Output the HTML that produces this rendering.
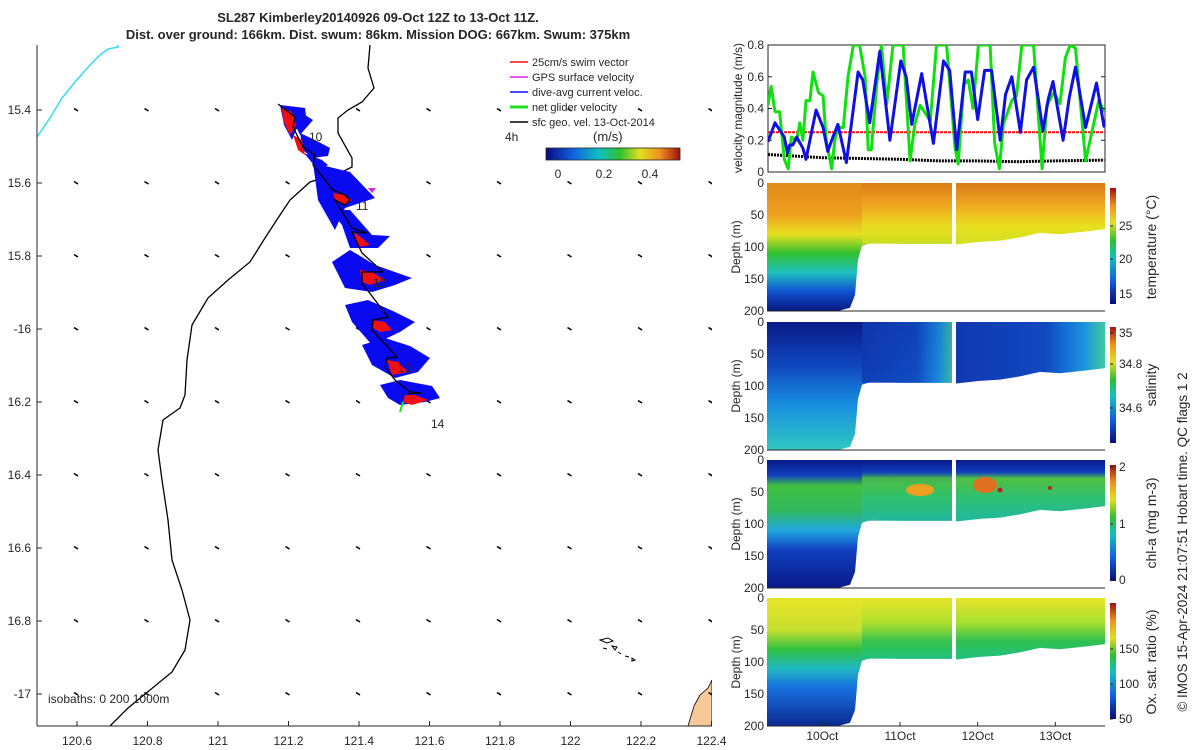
<!DOCTYPE html>
<html><head><meta charset="utf-8">
<style>
html,body{margin:0;padding:0;background:#fff;}
svg{display:block;font-family:"Liberation Sans","DejaVu Sans",sans-serif;}
text{fill:#262626;}
</style></head>
<body>
<svg id="chart" width="1200" height="750" viewBox="0 0 1200 750">
<defs>
  <linearGradient id="jet" x1="0" y1="0" x2="1" y2="0">
    <stop offset="0" stop-color="#0a0a80"/><stop offset="0.2" stop-color="#1060e0"/>
    <stop offset="0.4" stop-color="#10c0c0"/><stop offset="0.55" stop-color="#30c030"/>
    <stop offset="0.7" stop-color="#e0e020"/><stop offset="0.85" stop-color="#f09020"/>
    <stop offset="1" stop-color="#a01010"/>
  </linearGradient>
  <linearGradient id="jetv" x1="0" y1="1" x2="0" y2="0">
    <stop offset="0" stop-color="#0a0a80"/><stop offset="0.2" stop-color="#1060e0"/>
    <stop offset="0.4" stop-color="#10c0c0"/><stop offset="0.55" stop-color="#30c030"/>
    <stop offset="0.7" stop-color="#e0e020"/><stop offset="0.85" stop-color="#f09020"/>
    <stop offset="1" stop-color="#a01010"/>
  </linearGradient>
  <linearGradient id="tempL" x1="0" y1="0" x2="0" y2="1">
    <stop offset="0" stop-color="#e08a18"/><stop offset="0.25" stop-color="#eea020"/>
    <stop offset="0.4" stop-color="#e8e020"/><stop offset="0.55" stop-color="#30c030"/>
    <stop offset="0.7" stop-color="#20c0c0"/><stop offset="0.85" stop-color="#1050d0"/>
    <stop offset="1" stop-color="#0a1a80"/>
  </linearGradient>
  <linearGradient id="tempR" x1="0" y1="0" x2="0" y2="1">
    <stop offset="0" stop-color="#d87a18"/><stop offset="0.3" stop-color="#eca020"/>
    <stop offset="0.5" stop-color="#f0c020"/><stop offset="0.7" stop-color="#e8e020"/>
    <stop offset="1" stop-color="#d0e020"/>
  </linearGradient>
  <linearGradient id="salL" x1="0" y1="0" x2="0" y2="1">
    <stop offset="0" stop-color="#0a1a88"/><stop offset="0.35" stop-color="#1048c0"/>
    <stop offset="0.65" stop-color="#1890e0"/><stop offset="1" stop-color="#30c8c0"/>
  </linearGradient>
  <linearGradient id="salR" x1="0" y1="0" x2="1" y2="0">
    <stop offset="0" stop-color="#1038b0"/><stop offset="0.6" stop-color="#1048c0"/>
    <stop offset="0.85" stop-color="#1890e0"/><stop offset="1" stop-color="#40c8a0"/>
  </linearGradient>
  <linearGradient id="chlL" x1="0" y1="0" x2="0" y2="1">
    <stop offset="0" stop-color="#0a1a88"/><stop offset="0.12" stop-color="#1040c0"/>
    <stop offset="0.2" stop-color="#40c040"/><stop offset="0.4" stop-color="#30b860"/>
    <stop offset="0.55" stop-color="#20a8e0"/><stop offset="0.7" stop-color="#1040c0"/>
    <stop offset="1" stop-color="#0a1a88"/>
  </linearGradient>
  <linearGradient id="chlR" x1="0" y1="0" x2="0" y2="1">
    <stop offset="0" stop-color="#0a1a88"/><stop offset="0.2" stop-color="#1040c0"/>
    <stop offset="0.3" stop-color="#50c040"/><stop offset="0.6" stop-color="#30c070"/>
    <stop offset="1" stop-color="#20b8a0"/>
  </linearGradient>
  <linearGradient id="oxL" x1="0" y1="0" x2="0" y2="1">
    <stop offset="0" stop-color="#e8e428"/><stop offset="0.25" stop-color="#c8e030"/>
    <stop offset="0.4" stop-color="#30c040"/><stop offset="0.55" stop-color="#20b8c0"/>
    <stop offset="0.7" stop-color="#1870e0"/><stop offset="1" stop-color="#0a2a90"/>
  </linearGradient>
  <linearGradient id="oxR" x1="0" y1="0" x2="0" y2="1">
    <stop offset="0" stop-color="#e8e428"/><stop offset="0.4" stop-color="#a8e030"/>
    <stop offset="0.7" stop-color="#30c050"/><stop offset="1" stop-color="#20c080"/>
  </linearGradient>
</defs>

<!-- Titles -->
<text x="378" y="22" text-anchor="middle" font-size="13" font-weight="bold">SL287 Kimberley20140926 09-Oct 12Z to 13-Oct 11Z.</text>
<text x="378" y="39" text-anchor="middle" font-size="13" font-weight="bold">Dist. over ground: 166km. Dist. swum: 86km. Mission DOG: 667km. Swum: 375km</text>

<!-- MAP -->
<g>
  <clipPath id="mapclip"><rect x="37" y="45" width="675" height="681"/></clipPath>
  <g clip-path="url(#mapclip)">
    <polyline points="37,137 50,118 62,98 75,82 90,65 100,55 108,49 118,47 118,44" fill="none" stroke="#30e0f0" stroke-width="1.5"/>
    <polyline points="370,45 368,68 374,88 362,102 348,110 338,118 338,133 352,158 352,167 342,172 310,182 290,200 278,218 265,238 250,262 228,280 208,298 192,325 187,360 185,395 180,408 163,420 158,450 162,480 168,520 172,560 182,590 190,620 185,650 172,672 150,690 128,708 110,726" fill="none" stroke="#000" stroke-width="1.3"/>
    <polygon points="688,726 694,706 700,695 708,688 712,680 712,726" fill="#f7c898" stroke="#000" stroke-width="0.8"/>
    <g fill="none" stroke="#000" stroke-width="1">
      <path d="M600,640 l8,-2 l5,3 l-6,2 z"/><path d="M612,646 l5,1 l-2,3z"/><path d="M618,652 l3,2"/><path d="M625,656 l4,1"/><path d="M632,658 l3,2 l-3,1z"/><path d="M603,648 l4,1"/>
    </g>
    <g id="quivers"></g>
    <!-- track -->
    <g>
      <polygon fill="#0a0af0" points="280,105 305,108 306,116 296,130 292,140 284,125"/>
      <polygon fill="#0a0af0" points="292,118 305,115 313,120 300,135"/>
      <polygon fill="#0a0af0" points="300,133 315,140 330,148 328,156 312,158 303,150"/>
      <polygon fill="#0a0af0" points="304,153 322,160 328,165 318,170"/>
      <polygon fill="#0a0af0" points="313,163 350,172 375,198 345,208 335,230 318,200"/>
      <polygon fill="#0a0af0" points="330,210 350,210 372,235 390,236 378,248 350,248 342,225"/>
      <polygon fill="#0a0af0" points="332,262 350,250 375,265 412,278 395,285 372,292 345,288"/>
      <polygon fill="#0a0af0" points="345,305 368,300 395,312 415,322 400,332 372,345 352,322"/>
      <polygon fill="#0a0af0" points="362,345 385,338 410,346 430,358 418,372 395,378 372,365"/>
      <polygon fill="#0a0af0" points="380,385 400,380 432,386 440,398 425,402 400,405 388,398"/>
      <polygon fill="#f01010" points="282,108 292,112 296,125 290,135 283,120"/>
      <polygon fill="#f01010" points="293,135 302,140 305,155 298,150"/>
      <polygon fill="#f01010" points="333,193 345,195 352,200 345,205 335,200"/>
      <polygon fill="#f01010" points="354,232 362,238 370,245 358,247"/>
      <polygon fill="#f01010" points="360,270 372,272 385,280 370,285 362,282"/>
      <polygon fill="#f01010" points="372,320 385,322 392,330 380,332 373,328"/>
      <polygon fill="#f01010" points="387,360 398,362 408,372 392,375"/>
      <polygon fill="#f01010" points="405,395 415,395 428,400 412,405 403,402"/>
      <polygon fill="#e020e0" points="368,188 376,188 372,193"/>
      <polyline fill="none" stroke="#20e020" stroke-width="2" points="403,402 400,412"/>
      <polyline fill="none" stroke="#000" stroke-width="1.3" points="278,104 295,117 293,127 303,147 315,155 313,165 333,190 345,195 350,200 345,205 335,200 352,228 367,233 352,232 362,253 383,272 362,272 362,283 388,317 373,320 372,330 397,357 387,358 385,367 395,380 410,392 422,393 407,394"/>
    </g>
    <text x="309" y="141" font-size="12">10</text>
    <text x="356" y="210" font-size="12">11</text>
    <text x="373" y="287" font-size="12">12</text>
    <text x="398" y="372" font-size="12">13</text>
    <text x="431" y="428" font-size="12">14</text>
  </g>
  <line x1="37" y1="45" x2="37" y2="726" stroke="#262626" stroke-width="1"/>
  <line x1="37" y1="726" x2="712" y2="726" stroke="#262626" stroke-width="1"/>
  <g id="mapaxes" font-size="12"></g>
  <text x="48" y="703" font-size="12">isobaths: 0   200  1000m</text>
  <!-- legend -->
  <g font-size="11">
    <line x1="510" y1="62" x2="528" y2="62" stroke="#f01010" stroke-width="1.5"/><text x="532" y="66">25cm/s swim vector</text>
    <line x1="510" y1="77" x2="528" y2="77" stroke="#e020e0" stroke-width="1.5"/><text x="532" y="81">GPS surface velocity</text>
    <line x1="510" y1="92" x2="528" y2="92" stroke="#1010f0" stroke-width="1.5"/><text x="532" y="96">dive-avg current veloc.</text>
    <line x1="510" y1="107" x2="528" y2="107" stroke="#20e020" stroke-width="3"/><text x="532" y="111">net glider velocity</text>
    <line x1="510" y1="122" x2="528" y2="122" stroke="#000" stroke-width="1.5"/><text x="532" y="126">sfc geo. vel. 13-Oct-2014</text>
  </g>
  <text x="505" y="141" font-size="12">4h</text>
  <text x="593" y="141" font-size="13">(m/s)</text>
  <rect x="546" y="148" width="134" height="12" fill="url(#jet)" stroke="#262626" stroke-width="0.8"/>
  <text x="558" y="178" font-size="12" text-anchor="middle">0</text>
  <text x="604" y="178" font-size="12" text-anchor="middle">0.2</text>
  <text x="650" y="178" font-size="12" text-anchor="middle">0.4</text>
</g>

<!-- VELOCITY PANEL -->
<g>
  <rect x="768" y="45" width="337" height="127" fill="#fff" stroke="#262626" stroke-width="1"/>
  <g id="velplot"></g>
  <text transform="translate(742,108) rotate(-90)" text-anchor="middle" font-size="12">velocity magnitude (m/s)</text>
</g>

<!-- HEATMAP PANELS -->
<g id="panels"></g>

<text transform="translate(1187,542) rotate(-90)" text-anchor="middle" font-size="13.5">© IMOS 15-Apr-2024 21:07:51 Hobart time. QC flags 1  2</text>
</svg>

<script>
// ---- velocity data ----
const blueT=[9.30,9.39,9.51,9.55,9.58,9.62,9.67,9.75,9.79,9.92,10.01,10.07,10.12,10.20,10.31,10.46,10.52,10.61,10.74,10.87,11.01,11.08,11.15,11.28,11.43,11.56,11.64,11.73,11.84,11.92,12.00,12.09,12.18,12.29,12.36,12.44,12.55,12.63,12.72,12.84,12.91,12.97,13.10,13.18,13.26,13.39,13.44,13.53,13.63];
const blueV=[0.19,0.31,0.22,0.12,0.17,0.17,0.22,0.15,0.08,0.39,0.28,0.13,0.20,0.30,0.06,0.63,0.58,0.31,0.76,0.20,0.70,0.60,0.30,0.62,0.18,0.70,0.64,0.14,0.63,0.63,0.33,0.64,0.64,0.20,0.49,0.60,0.25,0.58,0.66,0.26,0.46,0.57,0.20,0.47,0.66,0.28,0.38,0.56,0.28];
const greenT=[9.30,9.34,9.39,9.45,9.51,9.56,9.60,9.67,9.71,9.75,9.79,9.84,9.88,9.95,10.01,10.05,10.12,10.16,10.20,10.27,10.33,10.40,10.48,10.55,10.59,10.63,10.70,10.76,10.83,10.91,11.04,11.13,11.19,11.26,11.39,11.47,11.60,11.71,11.75,11.82,11.88,11.94,12.01,12.16,12.22,12.28,12.33,12.44,12.50,12.57,12.72,12.78,12.83,12.89,12.98,13.06,13.13,13.19,13.26,13.32,13.39,13.47,13.56,13.63];
const greenV=[0.42,0.54,0.38,0.38,0.08,0.02,0.22,0.20,0.31,0.20,0.45,0.45,0.63,0.50,0.48,0.20,0.02,0.20,0.28,0.28,0.60,0.85,0.85,0.60,0.14,0.14,0.55,0.85,0.43,0.85,0.85,0.07,0.30,0.42,0.32,0.85,0.85,0.15,0.05,0.55,0.58,0.40,0.85,0.85,0.18,0.02,0.30,0.45,0.48,0.85,0.85,0.37,0.02,0.42,0.50,0.43,0.72,0.85,0.78,0.45,0.07,0.25,0.45,0.38];
const swimT=[9.30,13.63];
const swimV=[0.25,0.25];
const geoT=[9.30,10.0,10.5,11.0,11.5,12.0,12.5,13.0,13.63];
const geoV=[0.11,0.09,0.085,0.08,0.07,0.07,0.065,0.07,0.075];
const velTicks=[0,0.2,0.4,0.6,0.8];
const dayTicks=[10,11,12,13];
const dayLabels=["10Oct","11Oct","12Oct","13Oct"];
const depthTicks=[0,50,100,150,200];
const lonTicks=[120.6,120.8,121,121.2,121.4,121.6,121.8,122,122.2,122.4];
const lonLabels=["120.6","120.8","121","121.2","121.4","121.6","121.8","122","122.2","122.4"];
const latTicks=[-15.4,-15.6,-15.8,-16,-16.2,-16.4,-16.6,-16.8,-17];
const latLabels=["15.4","15.6","15.8","-16","16.2","16.4","16.6","16.8","-17"];

const NS="http://www.w3.org/2000/svg";
function mk(tag,attrs,parent){const e=document.createElementNS(NS,tag);for(const k in attrs)e.setAttribute(k,attrs[k]);parent.appendChild(e);return e;}
const tx=t=>768+(t-9.30)/(13.64-9.30)*337;
const vy=v=>172-v/0.8*127;
const lonX=l=>77+(l-120.6)/0.2*70.5;
const latY=l=>110+(-15.4-l)/0.2*73;

// map axes
const ma=document.getElementById('mapaxes');
lonTicks.forEach((l,i)=>{const x=lonX(l);
  mk('line',{x1:x,y1:726,x2:x,y2:721,stroke:'#262626'},ma);
  const t=mk('text',{x:x,y:745,'text-anchor':'middle','font-size':12},ma);t.textContent=lonLabels[i];
  
  });
latTicks.forEach((l,i)=>{const y=latY(l);
  mk('line',{x1:37,y1:y,x2:42,y2:y,stroke:'#262626'},ma);
  const t=mk('text',{x:31,y:y+4,'text-anchor':'end','font-size':12},ma);t.textContent=latLabels[i];
  
  });
// quivers
const q=document.getElementById('quivers');
for(let i=0;i<10;i++)for(let j=0;j<9;j++){const x=lonX(lonTicks[i]),y=latY(latTicks[j]);
  const a=mk('line',{x1:x-3,y1:y-1.5,x2:x+1,y2:y+1,stroke:'#000','stroke-width':1.6},q);
  
  }

// velocity plot
const vp=document.getElementById('velplot');
function line(T,V,color,w,name,dash){
  const pts=T.map((t,i)=>tx(t).toFixed(1)+','+Math.max(vy(V[i]),45).toFixed(1)).join(' ');
  const p=mk('polyline',{points:pts,fill:'none',stroke:color,'stroke-width':w,'stroke-linejoin':'round'},vp);
  if(dash)p.setAttribute('stroke-dasharray',dash);
  
  }
const cp=mk('clipPath',{id:'velclip'},vp);mk('rect',{x:768,y:45,width:337,height:127},cp);
vp.setAttribute('clip-path','url(#velclip)');
line(swimT,swimV,'#f01010',2,'swim-speed-line','3,1');
line(geoT,geoV,'#000',3,'geo-velocity-line','2,1');
line(greenT,greenV,'#10e010',3,'net-glider-velocity-line');
line(blueT,blueV,'#1010e0',3,'dive-avg-current-line');
const vt=document.getElementById('chart');
velTicks.forEach(v=>{const y=vy(v);
  mk('line',{x1:768,y1:y,x2:772,y2:y,stroke:'#262626'},vt);
  mk('line',{x1:1101,y1:y,x2:1105,y2:y,stroke:'#262626'},vt);
  const t=mk('text',{x:764,y:y+4,'text-anchor':'end','font-size':12},vt);t.textContent=v===0?'0':v.toFixed(1);
  
  });

// heatmap panels
const panels=[
 {top:183,name:'temperature',L:'tempL',R:'tempR',cbTicks:[[25,226],[20,259],[15,294]],title:'temperature (°C)',ty:247},
 {top:322,name:'salinity',L:'salL',R:'salR',cbTicks:[['35',333],['34.8',364],['34.6',408]],title:'salinity',ty:385},
 {top:460,name:'chl-a',L:'chlL',R:'chlR',cbTicks:[[2,467],[1,524],[0,580]],title:'chl-a (mg m-3)',ty:523},
 {top:598,name:'oxygen',L:'oxL',R:'oxR',cbTicks:[[150,649],[100,684],[50,719]],title:'Ox. sat. ratio (%)',ty:662}];
const pg=document.getElementById('panels');
panels.forEach((p,k)=>{
  const g=mk('g',{},pg);
  
  
  const d=m=>p.top+m*128/200;
  const bot=p.top+128;
  mk('path',{d:`M767,${d(0)} L952,${d(0)} L952,${d(95)} L900,${d(95)} L872,${d(93)} L862,${d(98)} L858,${d(120)} L855,${d(175)} L850,${d(195)} L838,${d(200)} L767,${d(200)} Z`,fill:`url(#${p.L})`},g);
  mk('rect',{x:862,y:d(0),width:90,height:d(95)-d(0),fill:`url(#${p.R})`,opacity:0.85},g);
  mk('path',{d:`M956,${d(0)} L1105,${d(0)} L1105,${d(72)} L1090,${d(75)} L1060,${d(80)} L1040,${d(78)} L1020,${d(85)} L1000,${d(90)} L980,${d(92)} L956,${d(96)} Z`,fill:`url(#${p.R})`},g);
  mk('line',{x1:767,y1:bot,x2:1105,y2:bot,stroke:'#262626'},g);
  depthTicks.forEach(m=>{const t=mk('text',{x:764,y:d(m)+4,'text-anchor':'end','font-size':12},g);t.textContent=m;});
  const yt=mk('text',{transform:`translate(740,${p.top+64}) rotate(-90)`,'text-anchor':'middle','font-size':12},g);yt.textContent='Depth (m)';
  mk('rect',{x:1110,y:p.top+5,width:6,height:116,fill:'url(#jetv)'},g);
  p.cbTicks.forEach(c=>{mk('line',{x1:1110,y1:c[1],x2:1113,y2:c[1],stroke:'#262626'},g);
    const t=mk('text',{x:1119,y:c[1]+4,'font-size':12},g);t.textContent=c[0];});
  const tt=mk('text',{transform:`translate(1156,${p.ty}) rotate(-90)`,'text-anchor':'middle','font-size':14},g);tt.textContent=p.title;
  if(k===3){dayTicks.forEach((dd,i)=>{const x=tx(dd);mk('line',{x1:x,y1:bot,x2:x,y2:bot-4,stroke:'#262626'},g);
    const t=mk('text',{x:x,y:bot+14,'text-anchor':'middle','font-size':12},g);t.textContent=dayLabels[i];
    
    });}
});
// chl hotspots
[[920,490,'#f0a020',14,6],[985,485,'#e07020',12,8],[1000,490,'#c02020',2.5,2.5],[1050,488,'#c02020',2,2]].forEach(h=>{
  const e=mk('ellipse',{cx:h[0],cy:h[1],rx:h[3],ry:h[4],fill:h[2]},pg);
  
  });
</script>
</body></html>
